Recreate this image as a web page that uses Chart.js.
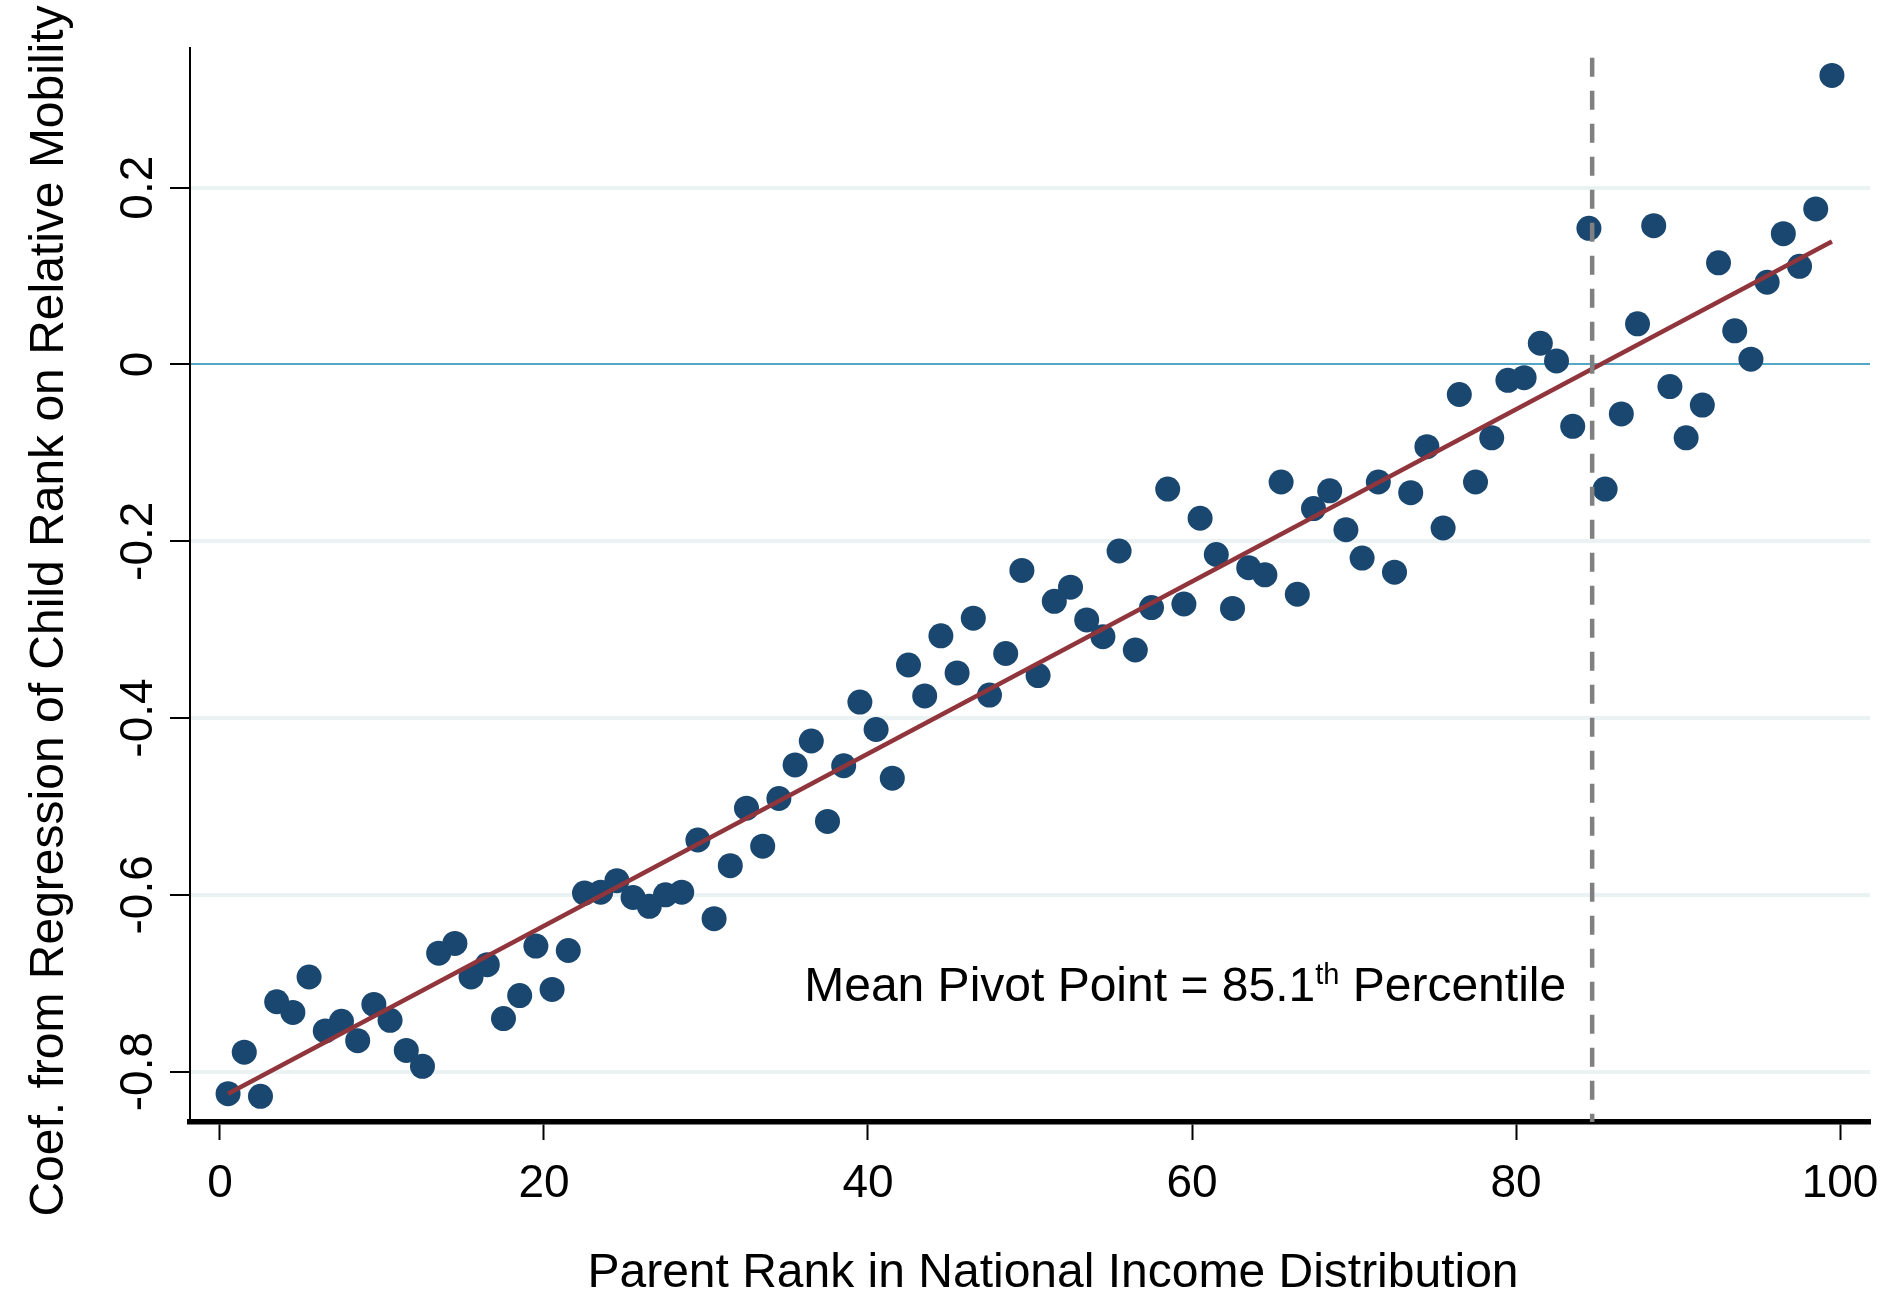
<!DOCTYPE html>
<html lang="en">
<head>
  <meta charset="UTF-8" />
  <title>Relative Mobility by Parent Rank</title>
  <script src="https://cdn.jsdelivr.net/npm/chart.js"></script>
  <style>
    html, body {
      margin: 0;
      padding: 0;
      background: #fff;
    }
    canvas {
      display: block;
    }
  </style>
</head>
<body>
  <canvas id="mobilityChart" width="1884" height="1295"></canvas>

  <script>
    // parent rank percentile (bin midpoints)
    const parentRank = [
      0.5, 1.5, 2.5, 3.5, 4.5, 5.5, 6.5, 7.5, 8.5, 9.5,
      10.5, 11.5, 12.5, 13.5, 14.5, 15.5, 16.5, 17.5, 18.5, 19.5,
      20.5, 21.5, 22.5, 23.5, 24.5, 25.5, 26.5, 27.5, 28.5, 29.5,
      30.5, 31.5, 32.5, 33.5, 34.5, 35.5, 36.5, 37.5, 38.5, 39.5,
      40.5, 41.5, 42.5, 43.5, 44.5, 45.5, 46.5, 47.5, 48.5, 49.5,
      50.5, 51.5, 52.5, 53.5, 54.5, 55.5, 56.5, 57.5, 58.5, 59.5,
      60.5, 61.5, 62.5, 63.5, 64.5, 65.5, 66.5, 67.5, 68.5, 69.5,
      70.5, 71.5, 72.5, 73.5, 74.5, 75.5, 76.5, 77.5, 78.5, 79.5,
      80.5, 81.5, 82.5, 83.5, 84.5, 85.5, 86.5, 87.5, 88.5, 89.5,
      90.5, 91.5, 92.5, 93.5, 94.5, 95.5, 96.5, 97.5, 98.5, 99.5
    ];

    // coefficient on relative mobility, one per percentile
    const coef = [
      -0.825, -0.778, -0.828, -0.721, -0.733, -0.693, -0.754, -0.743, -0.765, -0.724,
      -0.742, -0.776, -0.794, -0.666, -0.655, -0.693, -0.679, -0.740, -0.714, -0.658,
      -0.707, -0.663, -0.598, -0.597, -0.584, -0.603, -0.613, -0.600, -0.597, -0.538,
      -0.627, -0.567, -0.502, -0.545, -0.491, -0.453, -0.426, -0.517, -0.454, -0.382,
      -0.413, -0.468, -0.340, -0.375, -0.307, -0.349, -0.287, -0.374, -0.327, -0.233,
      -0.352, -0.268, -0.252, -0.289, -0.308, -0.211, -0.323, -0.275, -0.141, -0.271,
      -0.174, -0.215, -0.276, -0.230, -0.238, -0.133, -0.260, -0.163, -0.143, -0.187,
      -0.219, -0.133, -0.235, -0.145, -0.093, -0.185, -0.034, -0.133, -0.083, -0.018,
      -0.015, 0.024, 0.004, -0.070, 0.154, -0.141, -0.056, 0.046, 0.157, -0.025,
      -0.083, -0.046, 0.115, 0.038, 0.006, 0.093, 0.148, 0.111, 0.176, 0.327
    ];

    // linear fit, read at its two ends
    const fitRank = [0.5, 99.5];
    const fitCoef = [-0.825, 0.139];

    // pivot point marker
    const pivotRank = 84.7;
    const pivotSpan = [0.347, -0.857];

    const xTicks = [0, 20, 40, 60, 80, 100];
    const xTickLabels = ['0', '20', '40', '60', '80', '100'];
    const yTicks = [-0.8, -0.6, -0.4, -0.2, 0, 0.2];
    const yTickLabels = ['-0.8', '-0.6', '-0.4', '-0.2', '0', '0.2'];

    const xTitle = 'Parent Rank in National Income Distribution';
    const yTitle = 'Coef. from Regression of Child Rank on Relative Mobility';
    const noteParts = ['Mean Pivot Point = 85.1', 'th', ' Percentile'];
    const noteLevel = -0.72;

    const FONT = '"Liberation Sans", Arial, sans-serif';
    const navy = '#1a476f';
    const cranberry = '#90353b';
    const gridColor = '#eaf2f3';
    const zeroColor = '#55a7c6';

    // tick labels, axis titles and the note (rotated text on the y axis)
    const textPlugin = {
      id: 'stataText',
      afterDraw(chart) {
        const { ctx, chartArea, scales } = chart;
        const x = scales.x, y = scales.y;
        ctx.save();
        ctx.fillStyle = '#000';
        ctx.textAlign = 'center';
        ctx.textBaseline = 'alphabetic';

        ctx.font = '46px ' + FONT;
        xTicks.forEach((v, i) => {
          ctx.fillText(xTickLabels[i], x.getPixelForValue(v), chartArea.bottom + 75);
        });
        yTicks.forEach((v, i) => {
          ctx.save();
          ctx.translate(chartArea.left - 38, y.getPixelForValue(v));
          ctx.rotate(-Math.PI / 2);
          ctx.fillText(yTickLabels[i], 0, 0);
          ctx.restore();
        });

        ctx.font = '48px ' + FONT;
        ctx.fillText(xTitle, (chartArea.left + chartArea.right) / 2 + 23, chartArea.bottom + 165);
        ctx.save();
        ctx.translate(chartArea.left - 127, (chartArea.top + chartArea.bottom) / 2 + 26);
        ctx.rotate(-Math.PI / 2);
        ctx.fillText(yTitle, 0, 0);
        ctx.restore();

        // "Mean Pivot Point = 85.1th Percentile", right end just left of the pivot line
        ctx.textAlign = 'left';
        const big = '48px ' + FONT, small = '29px ' + FONT;
        ctx.font = big;
        const w1 = ctx.measureText(noteParts[0]).width;
        const w3 = ctx.measureText(noteParts[2]).width;
        ctx.font = small;
        const w2 = ctx.measureText(noteParts[1]).width;
        const right = x.getPixelForValue(pivotRank) - 26;
        const base = y.getPixelForValue(noteLevel);
        let left = right - (w1 + w2 + w3);
        ctx.font = big;
        ctx.fillText(noteParts[0], left, base);
        ctx.font = small;
        ctx.fillText(noteParts[1], left + w1, base - 17);
        ctx.font = big;
        ctx.fillText(noteParts[2], left + w1 + w2, base);
        ctx.restore();
      }
    };

    const points = parentRank.map((r, i) => ({ x: r, y: coef[i] }));
    const fitPoints = fitRank.map((r, i) => ({ x: r, y: fitCoef[i] }));
    const pivotPoints = pivotSpan.map(v => ({ x: pivotRank, y: v }));

    new Chart(document.getElementById('mobilityChart'), {
      type: 'scatter',
      data: {
        datasets: [
          {
            label: 'Pivot',
            data: pivotPoints,
            showLine: true,
            borderColor: '#808080',
            borderWidth: 4.5,
            borderDash: [19, 14],
            pointRadius: 0,
            order: 1
          },
          {
            label: 'Fit',
            data: fitPoints,
            showLine: true,
            borderColor: cranberry,
            borderWidth: 4.5,
            pointRadius: 0,
            order: 2
          },
          {
            label: 'Coefficient',
            data: points,
            backgroundColor: navy,
            borderWidth: 0,
            pointRadius: 12.5,
            pointHoverRadius: 12.5,
            order: 3
          }
        ]
      },
      options: {
        responsive: false,
        animation: false,
        devicePixelRatio: 1,
        layout: { padding: { top: 48, right: 14, left: 0, bottom: 0 } },
        plugins: {
          legend: { display: false },
          tooltip: { enabled: false }
        },
        scales: {
          x: {
            type: 'linear',
            position: 'bottom',
            min: -1.85,
            max: 101.85,
            afterBuildTicks: scale => { scale.ticks = xTicks.map(v => ({ value: v })); },
            afterFit: scale => { scale.height = 173; },
            ticks: { display: false },
            grid: {
              drawOnChartArea: false,
              drawTicks: true,
              tickLength: 18,
              tickWidth: 2,
              tickColor: '#000'
            },
            border: { display: true, color: '#000', width: 5.5 }
          },
          y: {
            type: 'linear',
            min: -0.857,
            max: 0.358,
            afterBuildTicks: scale => { scale.ticks = yTicks.map(v => ({ value: v })); },
            afterFit: scale => { scale.width = 190; },
            ticks: { display: false },
            grid: {
              color: c => (c.tick && c.tick.value === 0 ? zeroColor : gridColor),
              lineWidth: c => (c.tick && c.tick.value === 0 ? 2 : 4),
              drawTicks: true,
              tickLength: 20,
              tickWidth: 2,
              tickColor: '#000'
            },
            border: { display: true, color: '#000', width: 2 }
          }
        }
      },
      plugins: [textPlugin]
    });
  </script>
</body>
</html>
